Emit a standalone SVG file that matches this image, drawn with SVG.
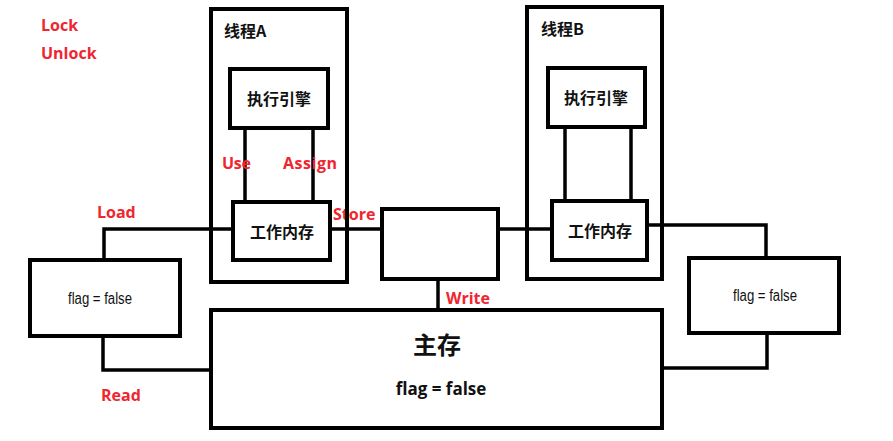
<svg xmlns="http://www.w3.org/2000/svg" width="893" height="441" viewBox="0 0 893 441">
<style>
.box{fill:none;stroke:#000;stroke-width:4}
.ln{fill:none;stroke:#000;stroke-width:3.5}
.red{fill:#f0252f;font-family:"Open Sans","Noto Sans",sans-serif;font-weight:bold;font-size:16px}
.cn{fill:#111;font-family:"Noto Sans CJK SC",sans-serif;font-weight:bold;font-size:16px}
.sm{fill:#111;font-family:"Liberation Sans","Noto Sans",sans-serif;font-size:16px;text-anchor:middle}
</style>
<rect width="893" height="441" fill="#fff"/>
<g id="connectors">
<line class="ln" x1="245" y1="128" x2="245" y2="202"/>
<line class="ln" x1="313" y1="128" x2="313" y2="202"/>
<line class="ln" x1="565" y1="127" x2="565" y2="201"/>
<line class="ln" x1="631" y1="127" x2="631" y2="201"/>
<polyline class="ln" points="233,229 104,229 104,260"/>
<polyline class="ln" points="103,336 103,370 211,370"/>
<line class="ln" x1="330" y1="229" x2="382" y2="229"/>
<line class="ln" x1="498" y1="229" x2="552" y2="229"/>
<line class="ln" x1="438" y1="279" x2="438" y2="310"/>
<polyline class="ln" points="647,225 766,225 766,258"/>
<polyline class="ln" points="767,333 767,368 662,368"/>
</g>
<g id="labels">
<text class="red" x="41" y="31">Lock</text>
<text class="red" x="41" y="59">Unlock</text>
<text class="red" x="222" y="169" textLength="29">Use</text>
<text class="red" x="283" y="169" textLength="54">Assign</text>
<text class="red" x="97" y="218">Load</text>
<text class="red" x="333" y="220">Store</text>
<text class="red" x="446" y="304">Write</text>
<text class="red" x="101" y="401">Read</text>
</g>
<g id="threadA">
<rect class="box" x="211" y="9" width="136" height="273"/>
<text class="cn" x="224" y="37">线程A</text>
</g>
<g id="engineA">
<rect class="box" x="230" y="69" width="98" height="59"/>
<text class="cn" x="279" y="105" text-anchor="middle">执行引擎</text>
</g>
<g id="workA">
<rect class="box" x="233" y="202" width="97" height="58"/>
<text class="cn" x="282" y="238" text-anchor="middle">工作内存</text>
</g>
<g id="threadB">
<rect class="box" x="527" y="7" width="135" height="272"/>
<text class="cn" x="541" y="35">线程B</text>
</g>
<g id="engineB">
<rect class="box" x="548" y="68" width="97" height="59"/>
<text class="cn" x="596" y="104" text-anchor="middle">执行引擎</text>
</g>
<g id="workB">
<rect class="box" x="552" y="201" width="95" height="59"/>
<text class="cn" x="600" y="237" text-anchor="middle">工作内存</text>
</g>
<g id="middle">
<rect class="box" x="382" y="209" width="116" height="70"/>
</g>
<g id="flagLeft">
<rect class="box" x="30" y="260" width="150" height="76"/>
<text class="sm" x="100" y="304" textLength="64" lengthAdjust="spacingAndGlyphs">flag = false</text>
</g>
<g id="flagRight">
<rect class="box" x="689" y="258" width="150" height="75"/>
<text class="sm" x="765" y="301" textLength="64" lengthAdjust="spacingAndGlyphs">flag = false</text>
</g>
<g id="main">
<rect class="box" x="211" y="310" width="451" height="118"/>
<text class="cn" x="437" y="354" text-anchor="middle" style="font-size:24px">主存</text>
<text x="441" y="395" text-anchor="middle" fill="#111" font-family="Open Sans,Noto Sans,sans-serif" font-weight="bold" font-size="17">flag = false</text>
</g>
</svg>
